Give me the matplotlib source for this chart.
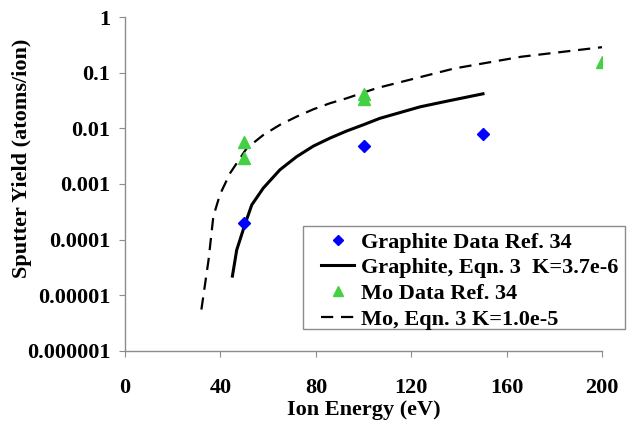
import matplotlib
matplotlib.use("Agg")
import matplotlib.pyplot as plt
from matplotlib.patches import Rectangle
from matplotlib.ticker import FixedLocator, FixedFormatter

# datos
graphite_E = [50, 100, 150]
graphite_Y = [1.95e-4, 4.9e-3, 7.9e-3]

mo_E = [50, 50, 100, 100, 200]
mo_Y = [5.8e-3, 2.95e-3, 4.2e-2, 3.4e-2, 1.6e-1]

# curva solida (grafito, Eqn. 3)
graphite_fit_E = [45, 46.8, 50.3, 53.1, 57.9, 64.9, 71.9, 78.9, 85.9, 92.9, 99.8,
                  106.8, 123.7, 135, 150]
graphite_fit_Y = [2.2e-5, 6.5e-5, 1.9e-4, 4.2e-4, 8.4e-4, 1.8e-3, 3.1e-3, 4.8e-3,
                  6.7e-3, 9.0e-3, 1.16e-2, 1.52e-2, 2.45e-2, 3.1e-2, 4.2e-2]

# curva discontinua (Mo, Eqn. 3)
mo_fit_E = [32, 35, 37, 39.8, 44, 51, 57.9, 64.9, 71.9, 78.9, 85.9, 92.9, 99.8,
            105.4, 138, 166, 200]
mo_fit_Y = [5.5e-6, 4.3e-5, 2.6e-4, 6.5e-4, 1.56e-3, 4.4e-3, 7.6e-3, 1.16e-2,
            1.63e-2, 2.21e-2, 2.84e-2, 3.49e-2, 4.4e-2, 5.3e-2, 0.12, 0.195, 0.29]

y_ticks = [1e-6, 1e-5, 1e-4, 1e-3, 1e-2, 1e-1, 1]
y_labels = ["0.000001", "0.00001", "0.0001", "0.001", "0.01", "0.1", "1"]
x_ticks = [0, 40, 80, 120, 160, 200]

plt.rcParams['font.family'] = ['Liberation Serif', 'DejaVu Serif']
plt.rcParams['font.weight'] = 'bold'
fs = 16
W, H = 635, 426

fig = plt.figure(figsize=(6.35, 4.26), dpi=100)
ax = fig.add_axes([0.1969, 0.1768, 0.7516, 0.7826])

ax.plot(graphite_E, graphite_Y, linestyle='none', marker='D', markersize=6.5,
        color='#0000ff', label='Graphite Data Ref. 34', zorder=4)
ax.plot(graphite_fit_E, graphite_fit_Y, color='black', linewidth=2.2,
        label='Graphite, Eqn. 3  K=3.7e-6')
ax.plot(mo_E, mo_Y, linestyle='none', marker='^', markersize=8.5,
        color='#44d044', label='Mo Data Ref. 34', zorder=4)
ax.plot(mo_fit_E, mo_fit_Y, color='black', linewidth=1.6, linestyle=(0, (5.5, 3.5)),
        label='Mo, Eqn. 3 K=1.0e-5')

ax.set_yscale('log')
ax.set_xlim(0, 200)
ax.set_ylim(1e-6, 1)
ax.yaxis.set_major_locator(FixedLocator(y_ticks))
ax.yaxis.set_major_formatter(FixedFormatter(y_labels))
ax.yaxis.set_minor_locator(FixedLocator([]))
ax.set_xticks(x_ticks)

for s in ['top', 'right']:
    ax.spines[s].set_visible(False)
for s in ['left', 'bottom']:
    ax.spines[s].set_color('#8c8c8c')
    ax.spines[s].set_linewidth(1.0)

ax.tick_params(axis='y', direction='out', length=4.5, color='#8c8c8c',
               labelsize=fs, pad=6)
ax.tick_params(axis='x', direction='out', length=4.5, color='#8c8c8c',
               labelsize=fs, pad=15)

fig.text(22 / W, 1 - 158 / H, 'Sputter Yield (atoms/ion)', rotation=90,
         ha='center', va='center', fontsize=fs, fontweight='bold')
fig.text(363.7 / W, 1 - 410 / H, 'Ion Energy (eV)', ha='center',
         va='center', fontsize=fs, fontweight='bold')

# caja de la leyenda dibujada aparte
box = Rectangle((303 / W, 1 - 329.3 / H), (625 - 303) / W, (329.3 - 225.7) / H,
                transform=fig.transFigure, facecolor='white',
                edgecolor='#8c8c8c', linewidth=1.0, zorder=5, clip_on=False)
ax.add_patch(box)

leg = ax.legend(loc='upper left', bbox_to_anchor=(321 / W, 1 - 232 / H),
                bbox_transform=fig.transFigure, fontsize=fs, frameon=False,
                borderpad=0, labelspacing=0.23, handlelength=1.5,
                handletextpad=0.3, borderaxespad=0, markerscale=0.8)
leg.set_zorder(6)

fig.savefig('out.png', dpi=100)
